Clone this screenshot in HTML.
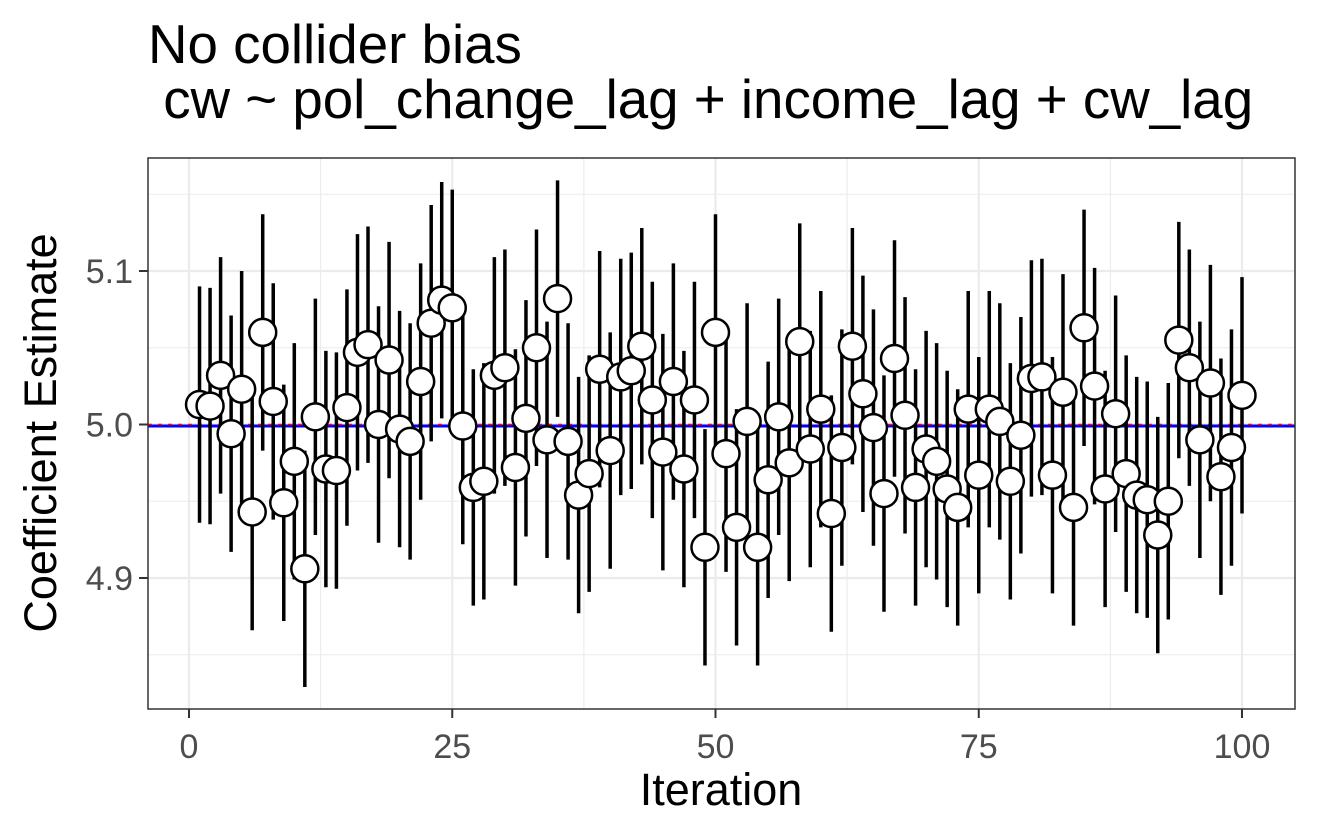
<!DOCTYPE html>
<html><head><meta charset="utf-8"><style>
body{margin:0;background:#fff}
svg{display:block;font-family:"Liberation Sans",Arial,sans-serif}
</style></head><body>
<svg id="chart" width="1319" height="840" viewBox="0 0 1319 840" xmlns="http://www.w3.org/2000/svg">
<rect width="1319" height="840" fill="#fff"/>
<text x="148" y="63" font-size="54.7" fill="#000">No collider bias</text>
<text x="148" y="118" font-size="54.7" fill="#000" xml:space="preserve"> cw ~ pol_change_lag + income_lag + cw_lag</text>
<g id="grid"></g>
<g id="marks"></g>
<rect x="148" y="158" width="1147" height="551" fill="none" stroke="#333" stroke-width="1.5"/>
<g id="axes"></g>
<text x="721" y="805" font-size="45" text-anchor="middle" fill="#000">Iteration</text>
<text transform="translate(56,433) rotate(-90)" font-size="45" text-anchor="middle" fill="#000">Coefficient Estimate</text>
</svg>
<script>
const iterations = Array.from({length:100},(_,i)=>i+1);
const estimates = [5.013,5.012,5.032,4.994,5.023,4.943,5.060,5.015,4.949,4.976,
4.906,5.005,4.971,4.970,5.011,5.047,5.052,5.000,5.042,4.997,
4.989,5.028,5.066,5.081,5.076,4.999,4.959,4.963,5.032,5.037,
4.972,5.004,5.050,4.990,5.082,4.989,4.954,4.968,5.036,4.983,
5.031,5.035,5.051,5.016,4.982,5.028,4.971,5.016,4.920,5.060,
4.981,4.933,5.002,4.920,4.964,5.005,4.975,5.054,4.984,5.010,
4.942,4.985,5.051,5.020,4.998,4.955,5.043,5.006,4.959,4.984,
4.976,4.958,4.946,5.010,4.967,5.010,5.002,4.963,4.993,5.030,
5.031,4.967,5.021,4.946,5.063,5.025,4.958,5.007,4.968,4.954,
4.951,4.928,4.950,5.055,5.037,4.990,5.027,4.966,4.985,5.019];
const ciHalfWidth = 0.077;
const meanEstimate = 4.999;
const trueValue = 5.0;
const xTicks = [0,25,50,75,100];
const xMinor = [12.5,37.5,62.5,87.5];
const yTicks = [4.9,5.0,5.1];
const yTickLabels = ["4.9","5.0","5.1"];
const yMinor = [4.85,4.95,5.05,5.15];

const NS="http://www.w3.org/2000/svg";
const x = v => 189 + v*10.53;
const y = v => 424.5 - (v-5)*1535;
function mk(tag, attrs, parent){const e=document.createElementNS(NS,tag);for(const k in attrs)e.setAttribute(k,attrs[k]);parent.appendChild(e);return e;}
const grid=document.getElementById('grid'), marks=document.getElementById('marks'), axes=document.getElementById('axes');
xMinor.forEach(v=>{const l=mk('line',{x1:x(v),x2:x(v),y1:158,y2:709,stroke:'#ebebeb','stroke-width':1.1},grid);

});
yMinor.forEach(v=>{const l=mk('line',{x1:148,x2:1295,y1:y(v),y2:y(v),stroke:'#ebebeb','stroke-width':1.1},grid);

});
xTicks.forEach(v=>{const l=mk('line',{x1:x(v),x2:x(v),y1:158,y2:709,stroke:'#ebebeb','stroke-width':2.2},grid);


const t=mk('line',{x1:x(v),x2:x(v),y1:709,y2:718,stroke:'#333','stroke-width':2},axes);


const tx=mk('text',{x:x(v),y:758,'font-size':34,'text-anchor':'middle',fill:'#4d4d4d'},axes);tx.textContent=v;

});
yTicks.forEach((v,i)=>{const l=mk('line',{x1:148,x2:1295,y1:y(v),y2:y(v),stroke:'#ebebeb','stroke-width':2.2},grid);


const t=mk('line',{x1:139,x2:148,y1:y(v),y2:y(v),stroke:'#333','stroke-width':2},axes);


const tx=mk('text',{x:133,y:y(v)+12,'font-size':34,'text-anchor':'end',fill:'#4d4d4d'},axes);tx.textContent=yTickLabels[i];

});
const ml=mk('line',{x1:148,x2:1295,y1:y(meanEstimate),y2:y(meanEstimate),stroke:'#0000ff','stroke-width':3},marks);


const tl=mk('line',{x1:148,x2:1295,y1:y(trueValue),y2:y(trueValue),stroke:'#ff0000','stroke-width':1.5,'stroke-dasharray':'4 6'},marks);


iterations.forEach((it,i)=>{const e=estimates[i];
const b=mk('line',{x1:x(it),x2:x(it),y1:y(e-ciHalfWidth),y2:y(e+ciHalfWidth),stroke:'#000','stroke-width':3.5},marks);

});
iterations.forEach((it,i)=>{const e=estimates[i];
const c=mk('circle',{cx:x(it),cy:y(e),r:13.5,fill:'#fff',stroke:'#000','stroke-width':2.5},marks);

});
</script>
</body></html>
